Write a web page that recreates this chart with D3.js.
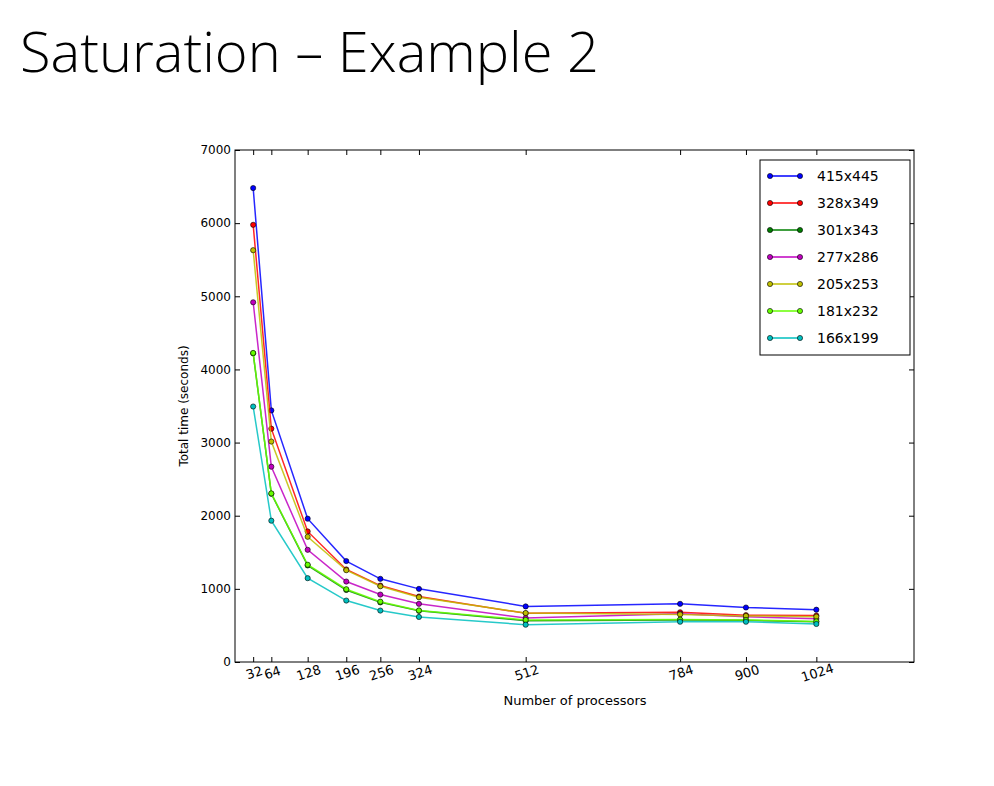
<!DOCTYPE html>
<html><head><meta charset="utf-8">
<script src="https://cdn.jsdelivr.net/npm/d3@7"></script>
<style>body{margin:0;background:#fff}</style></head>
<body><svg id="c" width="994" height="786"></svg>
<script>
const procs = [32, 64, 128, 196, 256, 324, 512, 784, 900, 1024];
const names = ["415x445", "328x349", "301x343", "277x286", "205x253", "181x232", "166x199"];
const colors = ["#0000ff", "#ff0000", "#007f00", "#bf00bf", "#bfbf00", "#66ff00", "#00bfbf"];
const s415 = [6480, 3440, 1960, 1380, 1137, 1000, 760, 795, 745, 715];
const s328 = [5977, 3190, 1785, 1265, 1045, 895, 665, 680, 640, 635];
const s301 = [4220, 2300, 1320, 985, 815, 700, 565, 575, 570, 550];
const s277 = [4918, 2670, 1534, 1100, 922, 795, 600, 660, 620, 590];
const s205 = [5630, 3014, 1712, 1255, 1035, 885, 670, 650, 630, 620];
const s181 = [4225, 2305, 1330, 995, 825, 705, 575, 580, 575, 555];
const s166 = [3493, 1932, 1146, 840, 703, 616, 510, 550, 550, 520];
const series = [s415, s328, s301, s277, s205, s181, s166];
const yTicks = [0, 1000, 2000, 3000, 4000, 5000, 6000, 7000];

const svg = d3.select("#c");
const L = 235, R = 914, T = 150, B = 662;
const x = d3.scaleLinear().domain([0, 1196]).range([L, R]);
const y = d3.scaleLinear().domain([0, 7000]).range([B, T]);

svg.append("text").attr("x", 20).attr("y", 72)
    .style("font-family", "Open Sans").style("font-weight", 300).style("font-size", "56px")
    .style("font-variant-ligatures", "none")
    .text("Saturation – Example 2");

const f = "DejaVu Sans";
// y axis
const ya = svg.append("g").attr("transform", `translate(${L},0)`)
    .call(d3.axisLeft(y).tickValues(yTicks).tickSize(-5).tickPadding(4).tickFormat(d3.format("d")));
ya.select(".domain").remove();
ya.selectAll("text").style("font-family", f).style("font-size", "12px");
svg.append("g").attr("transform", `translate(${R},0)`)
    .call(d3.axisRight(y).tickValues(yTicks).tickSize(-5).tickFormat(""))
    .select(".domain").remove();
// x axis
const xa = svg.append("g").attr("transform", `translate(0,${B})`)
    .call(d3.axisBottom(x).tickValues(procs).tickSize(-5).tickPadding(0).tickFormat(d3.format("d")));
xa.select(".domain").remove();
xa.selectAll("text").style("font-family", f).style("font-size", "13px")
    .attr("text-anchor", "middle").attr("transform", "translate(2,15) rotate(-18)").attr("dy", 0);
svg.append("g").attr("transform", `translate(0,${T})`)
    .call(d3.axisTop(x).tickValues(procs).tickSize(-5).tickFormat(""))
    .select(".domain").remove();

svg.append("rect").attr("x", L).attr("y", T).attr("width", R - L).attr("height", B - T)
    .attr("fill", "none").attr("stroke", "#000");

svg.append("text").attr("x", 575).attr("y", 705).attr("text-anchor", "middle")
    .style("font-family", f).style("font-size", "13px").text("Number of processors");
svg.append("text").attr("transform", `translate(188,${(T + B) / 2}) rotate(-90)`)
    .attr("text-anchor", "middle").style("font-family", f).style("font-size", "12px")
    .text("Total time (seconds)");

const line = d3.line().x((d, i) => x(procs[i])).y(d => y(d));
series.forEach((s, k) => {
    const g = svg.append("g");
    g.append("path").datum(s).attr("d", line).attr("fill", "none")
        .attr("stroke", colors[k]).attr("stroke-width", 1.5).attr("opacity", 0.85);
    g.selectAll("circle").data(s).join("circle")
        .attr("cx", (d, i) => x(procs[i])).attr("cy", d => y(d)).attr("r", 2.6)
        .attr("fill", colors[k]).attr("stroke", "#000").attr("stroke-width", 0.6);
});

// legend
const lg = svg.append("g").attr("transform", "translate(760,160)");
lg.append("rect").attr("width", 150).attr("height", 195).attr("fill", "#fff").attr("stroke", "#000");
names.forEach((n, k) => {
    const yy = 16 + k * 27;
    lg.append("line").attr("x1", 10).attr("x2", 40).attr("y1", yy).attr("y2", yy)
        .attr("stroke", colors[k]).attr("stroke-width", 1.5);
    [10, 40].forEach(cx => lg.append("circle").attr("cx", cx).attr("cy", yy).attr("r", 2.6)
        .attr("fill", colors[k]).attr("stroke", "#000").attr("stroke-width", 0.6));
    lg.append("text").attr("x", 57).attr("y", yy + 5).style("font-family", f)
        .style("font-size", "14px").text(n);
});
</script></body></html>
